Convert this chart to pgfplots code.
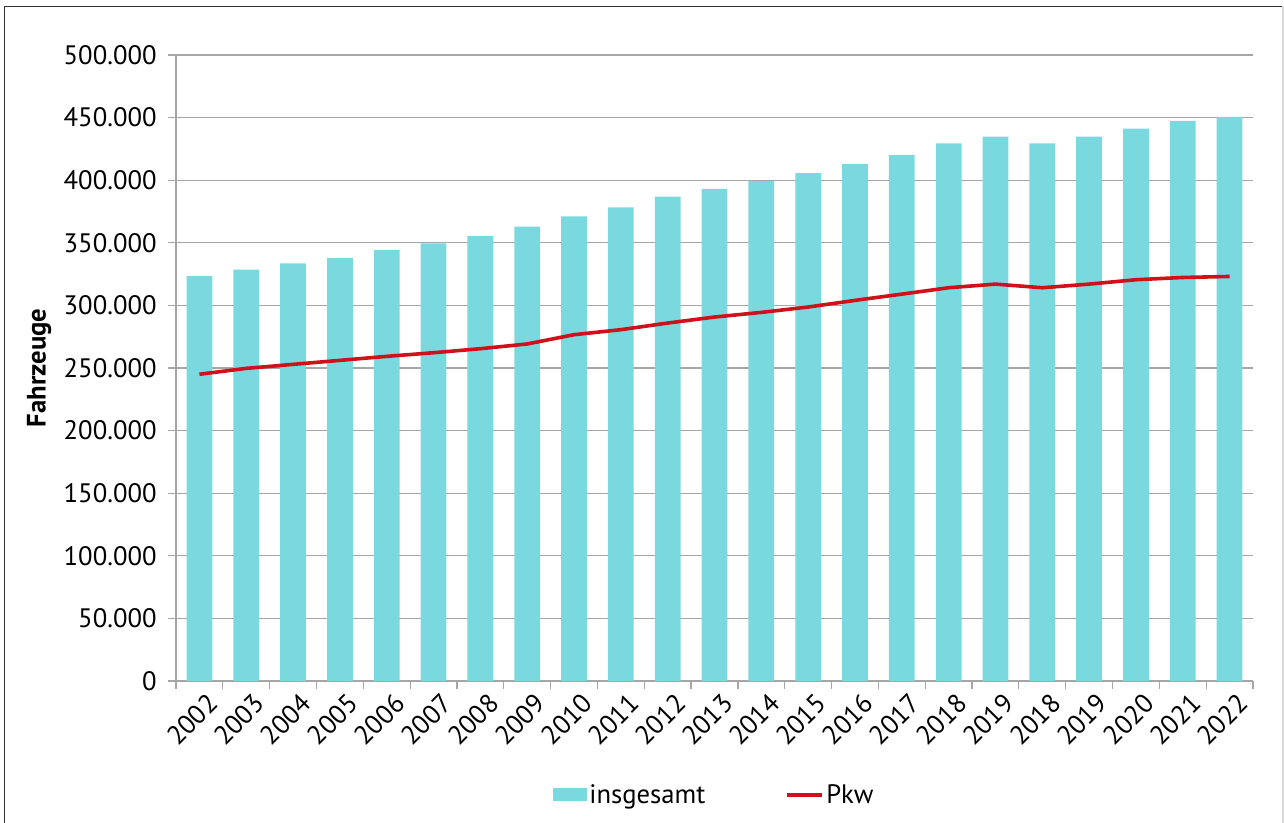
\documentclass[border=0pt]{standalone}
\usepackage{pgfplots}
\pgfplotsset{compat=1.18}
\usepackage{fontspec}
\setmainfont{PT Sans}
\definecolor{barcol}{HTML}{7AD9DF}
\definecolor{linecol}{HTML}{D0101A}
\definecolor{gridcol}{HTML}{A6A6A6}
\begin{document}
\begin{tikzpicture}
\useasboundingbox (-132pt,-106.5pt) rectangle (831pt,510.75pt);
\begin{axis}[
  at={(0,0)}, anchor=south west,
  scale only axis,
  width=807.75pt, height=469.5pt,
  xmin=-0.5, xmax=22.5,
  ymin=0, ymax=500000,
  ytick={0,50000,...,500000},
  scaled y ticks=false,
  yticklabel style={xshift=-5pt, /pgf/number format/.cd, fixed, precision=0, 1000 sep={.}, assume math mode=true},
  ticklabel style={font=\fontsize{20}{22}\selectfont, text=black},
  xtick={-0.5,0.5,...,22.5},
  x tick label as interval,
  xticklabels={2002,2003,2004,2005,2006,2007,2008,2009,2010,2011,2012,2013,2014,2015,2016,2017,2018,2019,2018,2019,2020,2021,2022},
  xticklabel style={rotate=45, anchor=north east, inner sep=1pt, yshift=-4pt, xshift=3pt},
  tick align=outside,
  major tick length=6pt,
  tick style={draw=gridcol, line width=0.9pt},
  ymajorgrids,
  grid style={draw=gridcol, line width=0.9pt},
  axis x line*=bottom, axis y line*=left,
  axis line style={draw=gridcol, line width=0.9pt, -},
  ylabel={\bfseries Fahrzeuge},
  ylabel style={at={(axis description cs:-0.1272,0.5)}, anchor=center, font=\fontsize{20}{22}\selectfont},
  legend style={at={(axis description cs:0.5,-0.182)}, anchor=center, draw=none, fill=none,
    font=\fontsize{20}{22}\selectfont, legend columns=2,
    /tikz/every even column/.append style={column sep=58pt}},
  legend cell align=left,
]
\addplot[ybar, bar width=0.55, fill=barcol, draw=none,
  legend image code/.code={\fill[barcol] (0pt,-4.9pt) rectangle (25.5pt,4.9pt);}]
  coordinates {
  (0,323400) (1,328500) (2,333600) (3,337800) (4,344200) (5,349600)
  (6,355400) (7,362900) (8,371100) (9,378300) (10,386800) (11,393000)
  (12,399300) (13,405700) (14,412900) (15,420100) (16,429400) (17,434800)
  (18,429400) (19,434800) (20,441100) (21,447300) (22,450500)};
\addlegendentry{insgesamt}
\addplot[linecol, line width=2.7pt, line join=round, mark=none,
  legend image code/.code={\draw[linecol, line width=2.7pt] (0pt,0pt) -- (26pt,0pt);}]
  coordinates {
  (0,245000) (1,249700) (2,252900) (3,256100) (4,259300) (5,262200)
  (6,265400) (7,269200) (8,276600) (9,280600) (10,285900) (11,290700)
  (12,294400) (13,298700) (14,304000) (15,309000) (16,314100) (17,317000)
  (18,314100) (19,317000) (20,320500) (21,322300) (22,323100)};
\addlegendentry{Pkw}
\end{axis}
\draw[black!80, line width=1.3pt] (-128.6pt,-106.5pt) -- (-128.6pt,505.9pt) -- (830.25pt,505.9pt);
\draw[black!15, line width=1pt] (830.25pt,505.9pt) -- (830.25pt,-106.5pt);
\end{tikzpicture}
\end{document}
